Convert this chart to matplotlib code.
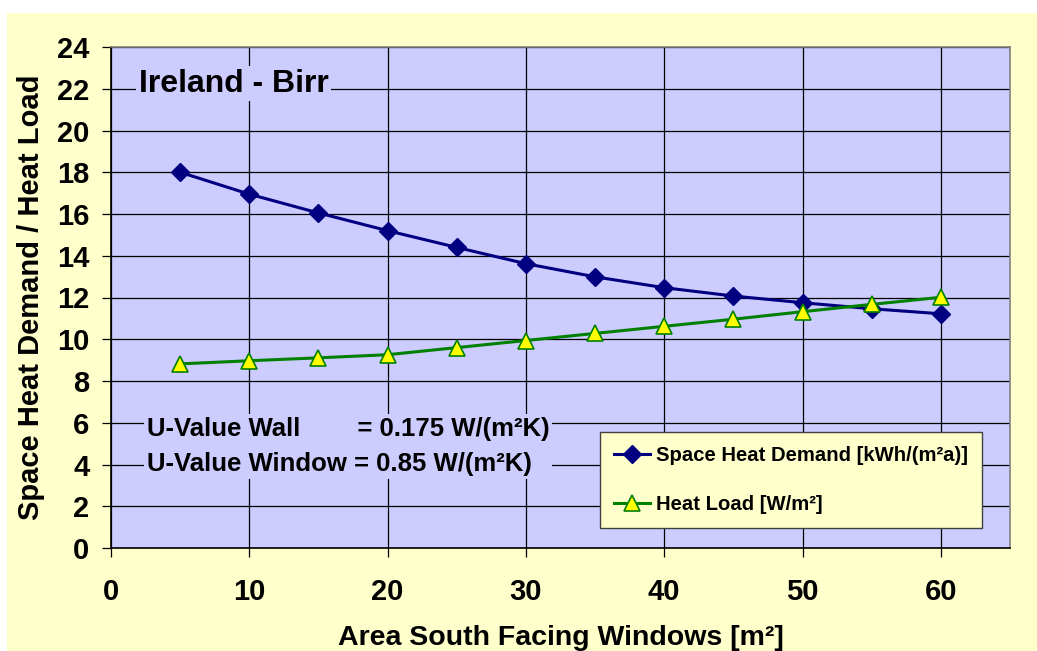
import matplotlib
matplotlib.use('Agg')
import matplotlib.pyplot as plt
from matplotlib.patches import Rectangle

# window area [m2]
area = [5, 10, 15, 20, 25, 30, 35, 40, 45, 50, 55, 60]
demand = [18.0, 16.95, 16.05, 15.2, 14.4, 13.62, 12.99, 12.47, 12.07, 11.75, 11.46, 11.22]
load = [8.82, 8.97, 9.11, 9.26, 9.6, 9.94, 10.28, 10.62, 10.96, 11.32, 11.67, 12.01]

x_ticks = [0, 10, 20, 30, 40, 50, 60]
y_ticks = list(range(0, 25, 2))

plt.rcParams['font.family'] = ['Liberation Sans', 'DejaVu Sans']
plt.rcParams['font.weight'] = 'bold'

W, H = 1037, 651
fig = plt.figure(figsize=(W / 100, H / 100), dpi=100, facecolor='white')
# yellow chart area (white strip top and left)
fig.patches.append(Rectangle((7 / W, 0), 1 - 7 / W, 1 - 13 / H, transform=fig.transFigure,
                             facecolor='#FFFFCC', edgecolor='none', zorder=-10))

ax = fig.add_axes([111 / W, (H - 548) / H, (1010 - 111) / W, (548 - 47) / H])
ax.set_facecolor('#CCCCFF')
ax.set_xlim(0, 65)
ax.set_ylim(0, 24)
ax.set_xticks(x_ticks)
ax.set_yticks(y_ticks)
ax.grid(True, color='black', linewidth=0.9)
ax.set_axisbelow(True)
for s in ax.spines.values():
    s.set_color('#808080')
    s.set_linewidth(1.2)
ax.spines['left'].set_color('black')
ax.spines['bottom'].set_color('black')
ax.tick_params(direction='out', length=6.5, width=0.9, labelsize=21)
ax.tick_params(axis='y', pad=9)
ax.tick_params(axis='x', pad=15)

ax.plot(area, demand, color='#000080', linewidth=2.2, marker='D', markersize=9.5,
        markerfacecolor='#000080', markeredgecolor='#000080',
        label='Space Heat Demand [kWh/(m²a)]', zorder=3)
ax.plot(area, load, color='#008000', linewidth=2.2, marker='^', markersize=11,
        markerfacecolor='#FFFF00', markeredgecolor='#008000', markeredgewidth=1.2,
        label='Heat Load [W/m²]', zorder=3)

ax.set_xlabel('Area South Facing Windows [m²]', fontsize=20.5, fontweight='bold', labelpad=14)
ax.set_ylabel('Space Heat Demand / Heat Load', fontsize=21, fontweight='bold', labelpad=9)

box = dict(facecolor='#CCCCFF', edgecolor='none', pad=2)
ax.text(2.0, 22.25, 'Ireland - Birr', fontsize=23, fontweight='bold', va='center',
        ha='left', bbox=box, zorder=2)
ax.text(2.6, 4.86, 'U-Value Wall        = 0.175 W/(m²K)\nU-Value Window = 0.85 W/(m²K)',
        fontsize=18.5, fontweight='bold', va='center', ha='left', linespacing=1.55,
        bbox=box, zorder=2)

leg = ax.legend(loc='lower left', bbox_to_anchor=((600 - 111) / (1010 - 111), (548 - 528) / (548 - 47)),
                fontsize=14.6, frameon=True, fancybox=False, handlelength=1.8,
                handletextpad=0.3, labelspacing=1.5, borderpad=0.68, borderaxespad=0)
leg.get_frame().set_facecolor('#FFFFCC')
leg.get_frame().set_edgecolor('#404040')
leg.get_frame().set_alpha(1)
leg.get_frame().set_linewidth(1.0)
for t in leg.get_texts():
    t.set_fontweight('bold')

fig.savefig('out.png', dpi=100, facecolor=fig.get_facecolor())
